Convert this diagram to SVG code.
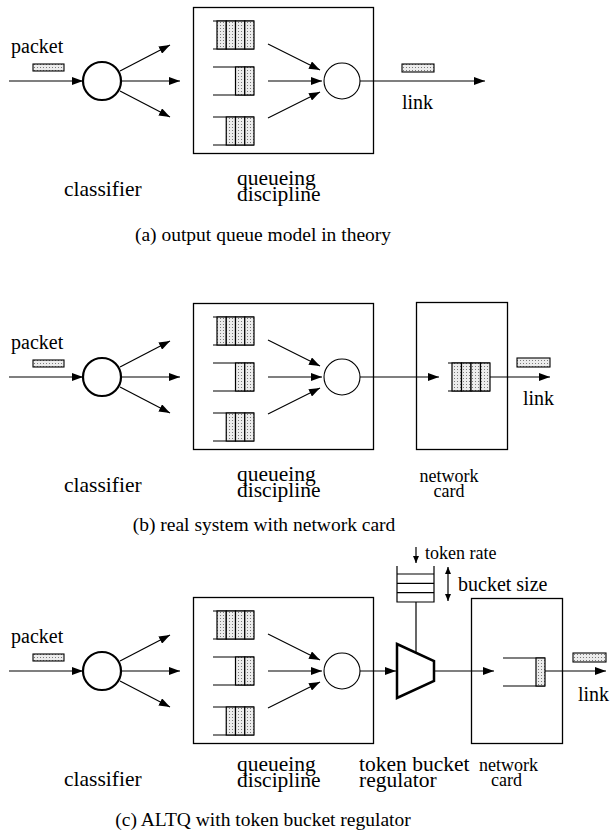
<svg xmlns="http://www.w3.org/2000/svg" width="610" height="836" viewBox="0 0 610 836">
  <style>
    .ln { stroke: #000; stroke-width: 1.2; fill: none; }
    .arr { stroke: #000; stroke-width: 1.2; fill: none; marker-end: url(#ah); }
    .box { stroke: #000; stroke-width: 1.3; fill: none; }
    .cls { stroke: #000; stroke-width: 2.2; fill: #fff; }
    .sch { stroke: #000; stroke-width: 1.1; fill: #fff; }
    .cell { stroke: #000; stroke-width: 1.2; fill: url(#dots); }
    .pkt { stroke: #000; stroke-width: 1.1; fill: url(#dots); }
    .lbl { font-family: "Liberation Serif", "Times New Roman", serif; font-size: 21.5px; fill: #000; }
    .sm { font-size: 18px; }
    .md { font-size: 20px; }
    .cap { font-family: "Liberation Serif", "Times New Roman", serif; font-size: 19.5px; fill: #000; text-anchor: middle; }
  </style>
  <defs>
    <pattern id="dots" width="3" height="3" patternUnits="userSpaceOnUse">
      <rect width="3" height="3" fill="#ececec"/>
      <rect x="1" y="1" width="1" height="1" fill="#7a7a7a"/>
    </pattern>
    <marker id="ah" markerWidth="11" markerHeight="8" refX="11" refY="4" orient="auto" markerUnits="userSpaceOnUse">
      <path d="M0,0 L11,4 L0,8 z" fill="#000"/>
    </marker>
    <marker id="ahs" markerWidth="7" markerHeight="6" refX="7" refY="3" orient="auto-start-reverse" markerUnits="userSpaceOnUse">
      <path d="M0,0 L7,3 L0,6 z" fill="#000"/>
    </marker>
  </defs>

  <rect width="610" height="836" fill="#fff"/>

  <!-- ===== (a) output queue model in theory ===== -->
  <g id="panel-a">
    <g id="a-packet-in">
      <text class="lbl md" x="11" y="53">packet</text>
      <rect class="pkt" x="33" y="64" width="31" height="7"/>
    </g>
    <g id="a-classifier">
      <circle class="cls" cx="102" cy="81" r="19"/>
      <text class="lbl" x="64" y="196">classifier</text>
    </g>
    <g id="a-qdisc">
      <rect class="box" x="193.5" y="7.5" width="180" height="146"/>
      <path class="ln" d="M213,21 H254 M213,49 H254"/>
      <rect class="cell" x="217" y="21" width="9.25" height="28"/>
      <rect class="cell" x="226.25" y="21" width="9.25" height="28"/>
      <rect class="cell" x="235.5" y="21" width="9.25" height="28"/>
      <rect class="cell" x="244.75" y="21" width="9.25" height="28"/>
      <path class="ln" d="M213,67 H254 M213,95 H254"/>
      <rect class="cell" x="235.5" y="67" width="9.25" height="28"/>
      <rect class="cell" x="244.75" y="67" width="9.25" height="28"/>
      <path class="ln" d="M213,117 H254 M213,145 H254"/>
      <rect class="cell" x="226.25" y="117" width="9.25" height="28"/>
      <rect class="cell" x="235.5" y="117" width="9.25" height="28"/>
      <rect class="cell" x="244.75" y="117" width="9.25" height="28"/>
      <circle class="sch" cx="342" cy="81" r="18"/>
      <text class="lbl" x="237" y="185">queueing</text>
      <text class="lbl" x="237" y="201">discipline</text>
    </g>
    <g id="a-link">
      <rect class="pkt" x="402" y="64" width="32" height="8"/>
      <text class="lbl md" x="402" y="109">link</text>
    </g>
    <g id="a-connectors">
      <line class="arr" x1="9" y1="81" x2="83" y2="81"/>
      <line class="arr" x1="120" y1="71" x2="170" y2="45"/>
      <line class="arr" x1="121" y1="81" x2="180" y2="81"/>
      <line class="arr" x1="120" y1="91" x2="170" y2="117"/>
      <line class="arr" x1="268" y1="44" x2="320" y2="70"/>
      <line class="arr" x1="268" y1="81" x2="322" y2="81"/>
      <line class="arr" x1="268" y1="118" x2="320" y2="92"/>
      <line class="arr" x1="360" y1="81" x2="485" y2="81"/>
    </g>
    <text class="cap" x="263" y="241">(a) output queue model in theory</text>
  </g>

  <!-- ===== (b) real system with network card ===== -->
  <g id="panel-b" transform="translate(0,296)">
    <g id="b-packet-in">
      <text class="lbl md" x="11" y="53">packet</text>
      <rect class="pkt" x="33" y="64" width="31" height="7"/>
    </g>
    <g id="b-classifier">
      <circle class="cls" cx="102" cy="81" r="19"/>
      <text class="lbl" x="64" y="196">classifier</text>
    </g>
    <g id="b-qdisc">
      <rect class="box" x="193.5" y="7.5" width="180" height="146"/>
      <path class="ln" d="M213,21 H254 M213,49 H254"/>
      <rect class="cell" x="217" y="21" width="9.25" height="28"/>
      <rect class="cell" x="226.25" y="21" width="9.25" height="28"/>
      <rect class="cell" x="235.5" y="21" width="9.25" height="28"/>
      <rect class="cell" x="244.75" y="21" width="9.25" height="28"/>
      <path class="ln" d="M213,67 H254 M213,95 H254"/>
      <rect class="cell" x="235.5" y="67" width="9.25" height="28"/>
      <rect class="cell" x="244.75" y="67" width="9.25" height="28"/>
      <path class="ln" d="M213,117 H254 M213,145 H254"/>
      <rect class="cell" x="226.25" y="117" width="9.25" height="28"/>
      <rect class="cell" x="235.5" y="117" width="9.25" height="28"/>
      <rect class="cell" x="244.75" y="117" width="9.25" height="28"/>
      <circle class="sch" cx="342" cy="81" r="18"/>
      <text class="lbl" x="237" y="185">queueing</text>
      <text class="lbl" x="237" y="201">discipline</text>
    </g>
    <g id="b-nic">
      <rect class="box" x="416.5" y="6.5" width="91" height="147"/>
      <path class="ln" d="M448,67 H490 M448,95 H490"/>
      <rect class="cell" x="452" y="67" width="9.5" height="28"/>
      <rect class="cell" x="461.5" y="67" width="9.5" height="28"/>
      <rect class="cell" x="471" y="67" width="9.5" height="28"/>
      <rect class="cell" x="480.5" y="67" width="9.5" height="28"/>
      <text class="lbl sm" x="449" y="186" text-anchor="middle">network</text>
      <text class="lbl sm" x="449" y="201" text-anchor="middle">card</text>
    </g>
    <g id="b-link">
      <rect class="pkt" x="517" y="62" width="33" height="9"/>
      <text class="lbl md" x="523" y="109">link</text>
    </g>
    <g id="b-connectors">
      <line class="arr" x1="9" y1="81" x2="83" y2="81"/>
      <line class="arr" x1="120" y1="71" x2="170" y2="45"/>
      <line class="arr" x1="121" y1="81" x2="180" y2="81"/>
      <line class="arr" x1="120" y1="91" x2="170" y2="117"/>
      <line class="arr" x1="268" y1="44" x2="320" y2="70"/>
      <line class="arr" x1="268" y1="81" x2="322" y2="81"/>
      <line class="arr" x1="268" y1="118" x2="320" y2="92"/>
      <line class="arr" x1="360" y1="81" x2="439" y2="81"/>
      <line class="arr" x1="490" y1="81" x2="550" y2="81"/>
    </g>
    <text class="cap" x="264" y="235">(b) real system with network card</text>
  </g>

  <!-- ===== (c) ALTQ with token bucket regulator ===== -->
  <g id="panel-c" transform="translate(0,590)">
    <g id="c-packet-in">
      <text class="lbl md" x="11" y="53">packet</text>
      <rect class="pkt" x="33" y="64" width="31" height="7"/>
    </g>
    <g id="c-classifier">
      <circle class="cls" cx="102" cy="81" r="19"/>
      <text class="lbl" x="64" y="196">classifier</text>
    </g>
    <g id="c-qdisc">
      <rect class="box" x="193.5" y="7.5" width="180" height="146"/>
      <path class="ln" d="M213,21 H254 M213,49 H254"/>
      <rect class="cell" x="217" y="21" width="9.25" height="28"/>
      <rect class="cell" x="226.25" y="21" width="9.25" height="28"/>
      <rect class="cell" x="235.5" y="21" width="9.25" height="28"/>
      <rect class="cell" x="244.75" y="21" width="9.25" height="28"/>
      <path class="ln" d="M213,67 H254 M213,95 H254"/>
      <rect class="cell" x="235.5" y="67" width="9.25" height="28"/>
      <rect class="cell" x="244.75" y="67" width="9.25" height="28"/>
      <path class="ln" d="M213,117 H254 M213,145 H254"/>
      <rect class="cell" x="226.25" y="117" width="9.25" height="28"/>
      <rect class="cell" x="235.5" y="117" width="9.25" height="28"/>
      <rect class="cell" x="244.75" y="117" width="9.25" height="28"/>
      <circle class="sch" cx="342" cy="81" r="18"/>
      <text class="lbl" x="237" y="181">queueing</text>
      <text class="lbl" x="237" y="197">discipline</text>
    </g>
    <g id="c-bucket">
      <path class="ln" d="M397,-24 V12 H434 V-24 M397,-16 H434 M397,-6.7 H434 M397,2.7 H434"/>
      <line class="ln" x1="416" y1="-43" x2="416" y2="-27" marker-end="url(#ahs)"/>
      <text class="lbl sm" x="425" y="-31">token rate</text>
      <line class="ln" x1="448" y1="-23" x2="448" y2="11" marker-start="url(#ahs)" marker-end="url(#ahs)"/>
      <text class="lbl md" x="458" y="1">bucket size</text>
    </g>
    <g id="c-regulator">
      <path d="M397,54 L434,71 L434,91 L397,108 Z" fill="#fff" stroke="#000" stroke-width="2.5" stroke-linejoin="miter"/>
      <text class="lbl" x="359" y="181">token bucket</text>
      <text class="lbl" x="359" y="197">regulator</text>
    </g>
    <g id="c-nic">
      <rect class="box" x="471.5" y="8.5" width="91" height="145"/>
      <path class="ln" d="M503,68 H545 M503,96 H545"/>
      <rect class="cell" x="536" y="68" width="9" height="28"/>
      <text class="lbl sm" x="479" y="181">network</text>
      <text class="lbl sm" x="491" y="196">card</text>
    </g>
    <g id="c-link">
      <rect class="pkt" x="573" y="63" width="33" height="9"/>
      <text class="lbl md" x="578" y="111">link</text>
    </g>
    <g id="c-connectors">
      <line class="arr" x1="9" y1="81" x2="83" y2="81"/>
      <line class="arr" x1="120" y1="71" x2="170" y2="45"/>
      <line class="arr" x1="121" y1="81" x2="180" y2="81"/>
      <line class="arr" x1="120" y1="91" x2="170" y2="117"/>
      <line class="arr" x1="268" y1="44" x2="320" y2="70"/>
      <line class="arr" x1="268" y1="81" x2="322" y2="81"/>
      <line class="arr" x1="268" y1="118" x2="320" y2="92"/>
      <line class="arr" x1="360" y1="81" x2="396" y2="81"/>
      <line class="ln" x1="416" y1="12" x2="416" y2="62"/>
      <line class="arr" x1="435" y1="81" x2="494" y2="81"/>
      <line class="arr" x1="545" y1="81" x2="606" y2="81"/>
    </g>
    <text class="cap" x="263" y="236">(c) ALTQ with token bucket regulator</text>
  </g>
</svg>
